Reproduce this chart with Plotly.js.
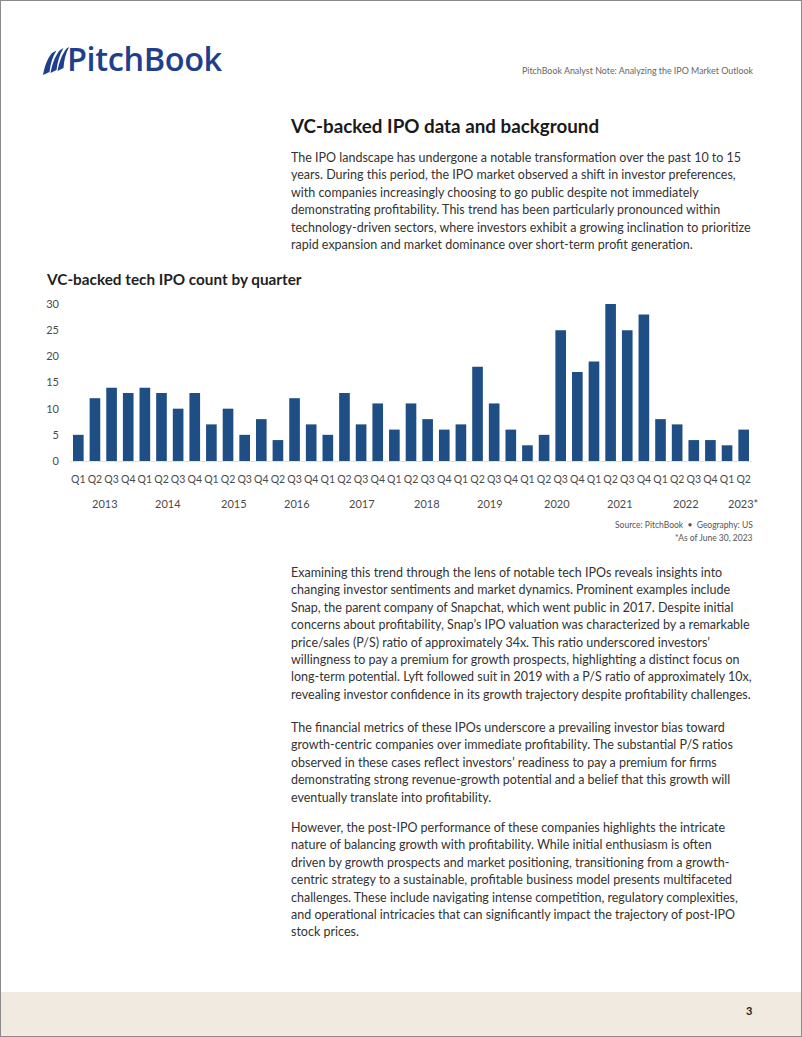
<!DOCTYPE html>
<html>
<head>
<meta charset="utf-8">
<script src="https://cdn.plot.ly/plotly-3.0.1.min.js"></script>
<style>
  html, body { margin: 0; padding: 0; background: #fff; }
  body { width: 802px; height: 1037px; position: relative; overflow: hidden; font-family: Lato, "Open Sans", sans-serif; }
  .frame { position: absolute; left: 0; top: 0; width: 800px; height: 1035px; border: 1px solid #8a8a8a; }
  .logo { position: absolute; left: 42px; top: 42px; height: 36px; }
  .logo svg { position: absolute; left: 0; top: 4px; }
  .logo .word { position: absolute; left: 25px; top: -1px; font-family: "Open Sans", sans-serif; font-weight: 600; font-size: 32.5px; color: #1f3f8d; letter-spacing: -0.4px; white-space: nowrap; line-height: 36px; }
  .hdr { position: absolute; right: 49px; top: 65px; font-size: 8.9px; color: #666; white-space: nowrap; line-height: 12px; }
  h1 { position: absolute; left: 291px; top: 113px; margin: 0; font-size: 18.8px; font-weight: 700; color: #1a1a1a; line-height: 26px; white-space: nowrap; }
  .para { position: absolute; left: 291px; font-size: 12.5px; color: #333; line-height: 17.4px; white-space: nowrap; }
  .footer { position: absolute; left: 1px; top: 992px; width: 800px; height: 44px; background: #f1eae0; }
  .pnum { position: absolute; left: 746px; top: 1004px; font-size: 11px; font-weight: 700; color: #222; }
  #chart { position: absolute; left: 0; top: 262px; width: 802px; height: 290px; }
</style>
</head>
<body>
<div class="frame"></div>
<div class="logo">
  <svg width="27" height="30" viewBox="0 0 27 30">
    <path d="M1 29 C2.5 21 5 13 10 7 L14.5 4.5 C10.5 10.5 8.5 18 7.5 26 Z" fill="#1f3f8d"/>
    <path d="M8.5 27 C10 19 12.5 11 17.5 4.5 L21.5 2 C17.5 8.5 15.5 16 14.5 24 Z" fill="#1f3f8d"/>
    <path d="M15.5 25 C17 17 19.5 9 24.5 2.5 L27 1 C23.5 7.5 22 14.5 21.5 22 Z" fill="#1f3f8d"/>
  </svg>
  <div class="word">PitchBook</div>
</div>
<div class="hdr">PitchBook Analyst Note: Analyzing the IPO Market Outlook</div>
<h1>VC-backed IPO data and background</h1>
<div class="para" style="top:149px">
The IPO landscape has undergone a notable transformation over the past 10 to 15<br>
years. During this period, the IPO market observed a shift in investor preferences,<br>
with companies increasingly choosing to go public despite not immediately<br>
demonstrating profitability. This trend has been particularly pronounced within<br>
technology-driven sectors, where investors exhibit a growing inclination to prioritize<br>
rapid expansion and market dominance over short-term profit generation.
</div>
<div id="chart"></div>
<div class="para" style="top:564px">
Examining this trend through the lens of notable tech IPOs reveals insights into<br>
changing investor sentiments and market dynamics. Prominent examples include<br>
Snap, the parent company of Snapchat, which went public in 2017. Despite initial<br>
concerns about profitability, Snap’s IPO valuation was characterized by a remarkable<br>
price/sales (P/S) ratio of approximately 34x. This ratio underscored investors’<br>
willingness to pay a premium for growth prospects, highlighting a distinct focus on<br>
long-term potential. Lyft followed suit in 2019 with a P/S ratio of approximately 10x,<br>
revealing investor confidence in its growth trajectory despite profitability challenges.
</div>
<div class="para" style="top:719px">
The financial metrics of these IPOs underscore a prevailing investor bias toward<br>
growth-centric companies over immediate profitability. The substantial P/S ratios<br>
observed in these cases reflect investors’ readiness to pay a premium for firms<br>
demonstrating strong revenue-growth potential and a belief that this growth will<br>
eventually translate into profitability.
</div>
<div class="para" style="top:819px">
However, the post-IPO performance of these companies highlights the intricate<br>
nature of balancing growth with profitability. While initial enthusiasm is often<br>
driven by growth prospects and market positioning, transitioning from a growth-<br>
centric strategy to a sustainable, profitable business model presents multifaceted<br>
challenges. These include navigating intense competition, regulatory complexities,<br>
and operational intricacies that can significantly impact the trajectory of post-IPO<br>
stock prices.
</div>
<div class="footer"></div>
<div class="pnum">3</div>
<script>
// ---- data ----
const quarterLabels = ["Q1","Q2","Q3","Q4","Q1","Q2","Q3","Q4","Q1","Q2","Q3","Q4",
  "Q2","Q3","Q4","Q1","Q2","Q3","Q4","Q1","Q2","Q3","Q4","Q1","Q2","Q3","Q4",
  "Q1","Q2","Q3","Q4","Q1","Q2","Q3","Q4","Q1","Q2","Q3","Q4","Q1","Q2"];
const ipoCounts = [5,12,14,13,14,13,10,13,7,10,5,8,
  4,12,7,5,13,7,11,6,11,8,6,7,18,11,6,
  3,5,25,17,19,30,25,28,8,7,4,4,3,6];
const yearLabels = ["2013","2014","2015","2016","2017","2018","2019","2020","2021","2022","2023*"];
// ---- layout constants ----
const yearLabelX = [1.62, 5.4, 9.33, 13.17, 17.03, 20.94, 24.74, 28.75, 32.55, 36.52, 39.96];

const idx = quarterLabels.map((_, i) => i);
const tickFont = {family: "Lato, 'Open Sans', sans-serif", size: 10.5, color: "#4a4a4a"};

const trace = {
  type: "bar",
  x: idx,
  y: ipoCounts,
  marker: {color: "#1f4e85"},
  hoverinfo: "y"
};

const annotations = yearLabels.map((t, i) => ({
  text: t, x: yearLabelX[i], xref: "x", y: -0.27, yref: "paper",
  xanchor: "center", yanchor: "middle", showarrow: false,
  font: {family: tickFont.family, size: 11, color: "#4a4a4a"}
}));
annotations.push({
  text: "Source: PitchBook  •  Geography: US", x: 1.004, xref: "paper", y: -0.41, yref: "paper",
  xanchor: "right", yanchor: "middle", showarrow: false,
  font: {family: "Lato, sans-serif", size: 8.5, color: "#555"}
});
annotations.push({
  text: "*As of June 30, 2023", x: 1.004, xref: "paper", y: -0.49, yref: "paper",
  xanchor: "right", yanchor: "middle", showarrow: false,
  font: {family: "Lato, sans-serif", size: 8.5, color: "#555"}
});

const layout = {
  width: 802, height: 290,
  margin: {l: 70, r: 50, t: 42, b: 91, pad: 0},
  paper_bgcolor: "rgba(0,0,0,0)",
  plot_bgcolor: "rgba(0,0,0,0)",
  showlegend: false,
  bargap: 0.36,
  title: {
    text: "VC-backed tech IPO count by quarter",
    xref: "container", x: 47/802, xanchor: "left",
    yref: "container", y: 0.938, yanchor: "middle",
    font: {family: "Lato, sans-serif", size: 15.3, weight: 700, color: "#1f1f1f"}
  },
  xaxis: {
    type: "linear",
    range: [-0.5, quarterLabels.length - 0.5],
    tickmode: "array", tickvals: idx, ticktext: quarterLabels,
    tickangle: 0,
    showgrid: false, zeroline: false,
    showline: true, linecolor: "#e6dfd2", linewidth: 1,
    ticks: "", ticklabelstandoff: 8,
    tickfont: tickFont, fixedrange: true
  },
  yaxis: {
    range: [0, 30], tickmode: "linear", tick0: 0, dtick: 5,
    showgrid: false, zeroline: false, showline: false,
    ticks: "", ticklabelstandoff: 10,
    tickfont: {family: tickFont.family, size: 11, color: "#4a4a4a"}, fixedrange: true
  },
  annotations: annotations
};

Plotly.newPlot("chart", [trace], layout, {displayModeBar: false, staticPlot: true});
</script>
</body>
</html>
